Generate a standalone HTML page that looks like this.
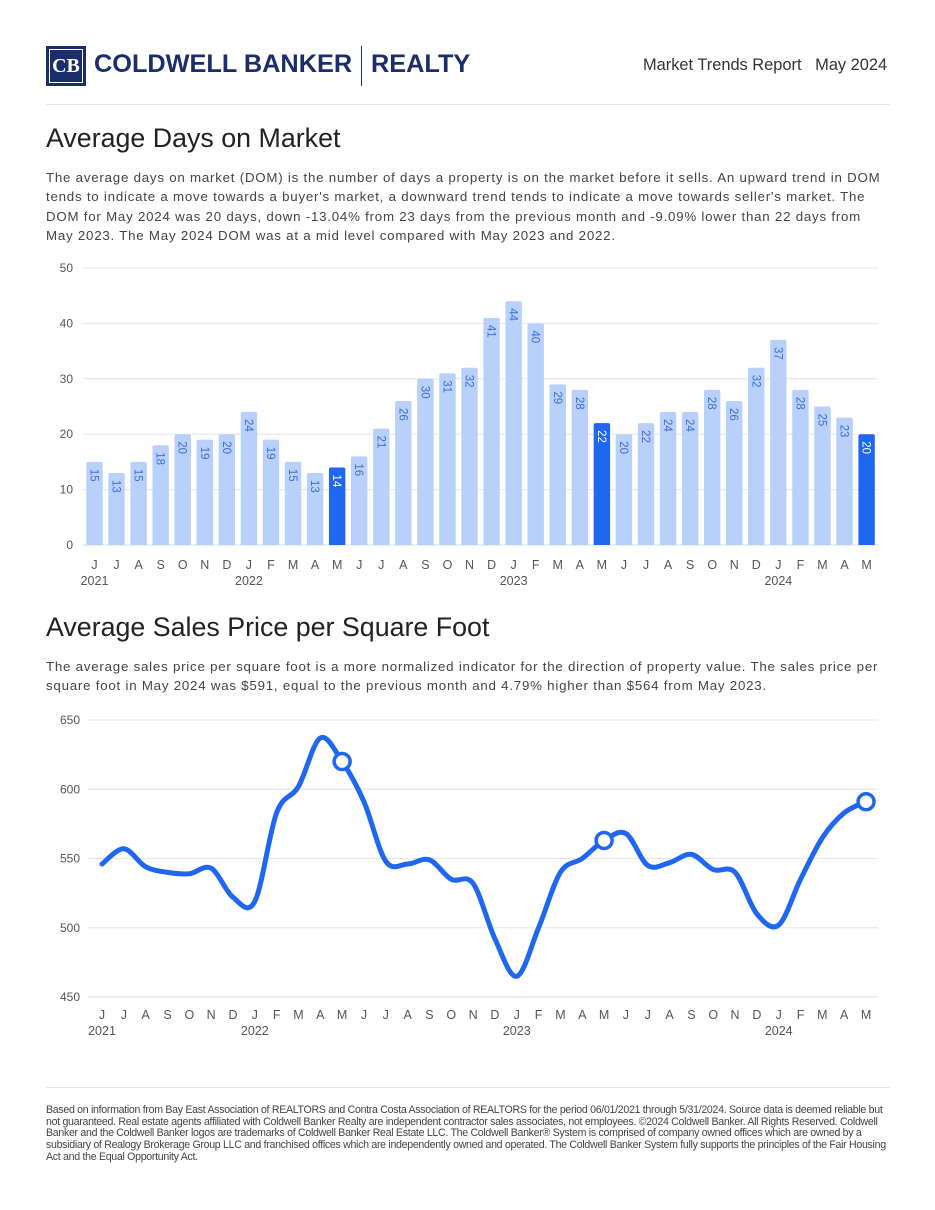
<!DOCTYPE html>
<html><head><meta charset="utf-8"><style>
body{margin:0;background:#fff;font-family:"Liberation Sans",sans-serif;color:#333}
.page{position:relative;width:935px;height:1210px;overflow:hidden}
.abs{position:absolute}
h2{position:absolute;margin:0;font-weight:normal;font-size:26.8px;color:#222;left:46px;white-space:nowrap}
.p{position:absolute;left:46px;width:846px;font-size:13.3px;line-height:19.3px;color:#444;letter-spacing:0.77px}
</style></head><body><div class="page">
<div class="abs" style="left:46px;top:46px;width:40px;height:40px;background:#1b2d6b">
 <div class="abs" style="left:3px;top:3px;width:32px;height:32px;border:1px solid #fff;color:#fff;font-weight:bold;font-size:20px;line-height:32px;text-align:center;font-family:'Liberation Serif',serif">CB</div>
</div>
<div class="abs" style="left:94px;top:50px;font-size:25.3px;font-weight:bold;color:#1b2d6b;white-space:nowrap">COLDWELL BANKER</div>
<div class="abs" style="left:361px;top:46px;width:1px;height:40px;background:#1b2d6b"></div>
<div class="abs" style="left:371px;top:50px;font-size:25.3px;font-weight:bold;color:#1b2d6b">REALTY</div>
<div class="abs" style="left:643px;top:56px;font-size:16.4px;color:#333;white-space:nowrap">Market Trends Report &nbsp;&nbsp;May 2024</div>
<div class="abs" style="left:46px;top:104px;width:844px;height:1px;background:#e4e4e4"></div>

<h2 style="top:123px">Average Days on Market</h2>
<div class="p" style="top:168px">The average days on market (DOM) is the number of days a property is on the market before it sells. An upward trend in DOM tends to indicate a move towards a buyer's market, a downward trend tends to indicate a move towards seller's market. The DOM for May 2024 was 20 days, down -13.04% from 23 days from the previous month and -9.09% lower than 22 days from May 2023. The May 2024 DOM was at a mid level compared with May 2023 and 2022.</div>
<svg class="abs" style="left:0;top:0" width="935" height="1210" id="svg"></svg>

<h2 style="top:612px">Average Sales Price per Square Foot</h2>
<div class="p" style="top:657px;width:856px">The average sales price per square foot is a more normalized indicator for the direction of property value. The sales price per square foot in May 2024 was $591, equal to the previous month and 4.79% higher than $564 from May 2023.</div>

<div class="abs" style="left:46px;top:1087px;width:844px;height:1px;background:#e4e4e4"></div>
<div class="abs" style="left:46px;top:1105px;width:846px;font-size:10.6px;line-height:11.7px;color:#444;letter-spacing:-0.3px">Based on information from Bay East Association of REALTORS and Contra Costa Association of REALTORS for the period 06/01/2021 through 5/31/2024. Source data is deemed reliable but not guaranteed. Real estate agents affiliated with Coldwell Banker Realty are independent contractor sales associates, not employees. ©2024 Coldwell Banker. All Rights Reserved. Coldwell Banker and the Coldwell Banker logos are trademarks of Coldwell Banker Real Estate LLC. The Coldwell Banker® System is comprised of company owned offices which are owned by a subsidiary of Realogy Brokerage Group LLC and franchised offices which are independently owned and operated. The Coldwell Banker System fully supports the principles of the Fair Housing Act and the Equal Opportunity Act.</div>
</div>
<script>
const months=["J","J","A","S","O","N","D","J","F","M","A","M","J","J","A","S","O","N","D","J","F","M","A","M","J","J","A","S","O","N","D","J","F","M","A","M"];
const years=[["2021",0],["2022",7],["2023",19],["2024",31]];
const domValues=[15,13,15,18,20,19,20,24,19,15,13,14,16,21,26,30,31,32,41,44,40,29,28,22,20,22,24,24,28,26,32,37,28,25,23,20];
const domTicks=[0,10,20,30,40,50];
const highlight=[11,23,35];
const psfValues=[546,557,544,540,539,543,522,519,583,602,637,620,591,548,546,549,535,532,492,465,500,540,550,563,568,545,547,553,542,540,510,502,535,565,583,591];
const psfTicks=[450,500,550,600,650];

const svg=document.getElementById('svg');const NS="http://www.w3.org/2000/svg";
function mk(t,a,txt){const e=document.createElementNS(NS,t);for(const k in a)e.setAttribute(k,a[k]);if(txt!==undefined)e.textContent=txt;svg.appendChild(e);return e;}
const bx=i=>94.5+i*22.06, by=v=>545-v*5.54;
domTicks.forEach(t=>{const l=mk('line',{x1:83,x2:878,y1:by(t),y2:by(t),stroke:t?'#e6e6e6':'#ddd'});


const tx=mk('text',{x:73,y:by(t)+4,'text-anchor':'end','font-size':12,fill:'#555'},t);

});
domValues.forEach((v,i)=>{const hl=highlight.includes(i);
const r=mk('path',{d:`M${bx(i)-8.2},${by(0)} V${by(v)+2} q0,-2 2,-2 h12.4 q2,0 2,2 V${by(0)} Z`,fill:hl?'#1f66f0':'#b8d0fa'});


const t=mk('text',{transform:`translate(${bx(i)-4},${by(v)+7}) rotate(90)`,'font-size':11.5,fill:hl?'#fff':'#3d6fd6'},v);


const m=mk('text',{x:bx(i),y:569,'text-anchor':'middle','font-size':12.5,fill:'#555'},months[i]);

});
years.forEach(([y,i])=>{const t=mk('text',{x:bx(i),y:585,'text-anchor':'middle','font-size':12.5,fill:'#555'},y);

});
const lx=i=>102+i*21.83, ly=v=>997-(v-450)*1.385;
psfTicks.forEach(t=>{const l=mk('line',{x1:88,x2:878,y1:ly(t),y2:ly(t),stroke:t==450?'#ddd':'#e6e6e6'});


const tx=mk('text',{x:80,y:ly(t)+4,'text-anchor':'end','font-size':12,fill:'#555'},t);

});
months.forEach((m,i)=>{const t=mk('text',{x:lx(i),y:1019,'text-anchor':'middle','font-size':12.5,fill:'#555'},m);

});
years.forEach(([y,i])=>{const t=mk('text',{x:lx(i),y:1035,'text-anchor':'middle','font-size':12.5,fill:'#555'},y);

});
const P=psfValues.map((v,i)=>[lx(i),ly(v)]);
let d=`M${P[0][0]},${P[0][1]}`;
for(let i=0;i<P.length-1;i++){const p0=P[i-1]||P[i],p1=P[i],p2=P[i+1],p3=P[i+2]||p2;
d+=` C${p1[0]+(p2[0]-p0[0])/6},${p1[1]+(p2[1]-p0[1])/6} ${p2[0]-(p3[0]-p1[0])/6},${p2[1]-(p3[1]-p1[1])/6} ${p2[0]},${p2[1]}`;}
const line=mk('path',{d,fill:'none',stroke:'#1f66f0','stroke-width':5,'stroke-linecap':'round','stroke-linejoin':'round'});


highlight.forEach(i=>{const c=mk('circle',{cx:lx(i),cy:ly(psfValues[i]),r:8,fill:'#fff',stroke:'#1f66f0','stroke-width':3.5});

});
</script></body></html>
